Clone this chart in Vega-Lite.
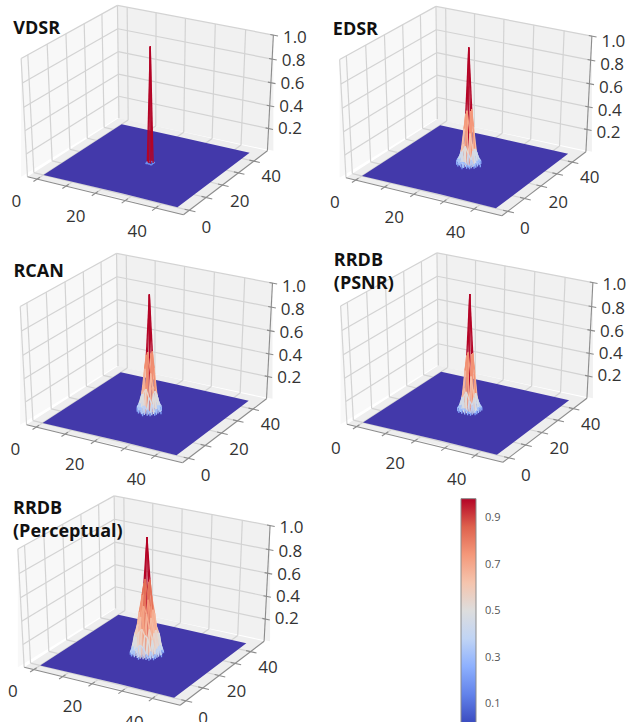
{"$schema":"https://vega.github.io/schema/vega-lite/v6.json","width":627,"height":722,"padding":0,"autosize":{"type":"none"},"background":"white","config":{"view":{"stroke":null}},
"params":[{"name":"OX","value":[149.3,467.8,148.4,468.8,146]},{"name":"OY","value":[106.5,107.5,354.5,354,597]},{"name":"TY","value":[-78,-78,-82.5,-93,-88]},{"name":"TXO","value":[-136,-135,-135,-135,-133]},{"name":"LY","value":[0,3,1,0,0]}],
"data":{"values":[
{"k":"w","w":"L","x":-3.4,"y":-3.4,"z":1,"x2":-3.4,"y2":-3.4,"z2":0},{"k":"w","w":"L","x":-3.4,"y":49,"z":1,"x2":-3.4,"y2":49,"z2":0},
{"k":"w","w":"R","x":-3.4,"y":49,"z":1,"x2":-3.4,"y2":49,"z2":0},{"k":"w","w":"R","x":49,"y":49,"z":1,"x2":49,"y2":49,"z2":0},
{"k":"w","w":"F","x":-3.4,"y":-3.4,"z":0,"x2":-3.4,"y2":-3.4,"z2":0},{"k":"w","w":"F","x":-3.4,"y":49,"z":0,"x2":26.2,"y2":-3.4,"z2":0},{"k":"w","w":"F","x":19.7,"y":49,"z":0,"x2":49,"y2":-3.4,"z2":0},{"k":"w","w":"F","x":49,"y":49,"z":0,"x2":49,"y2":49,"z2":0},
{"k":"f","x":0,"y":0,"z":0,"x2":0,"y2":0,"z2":0},{"k":"f","x":0,"y":45,"z":0,"x2":26,"y2":0,"z2":0},{"k":"f","x":20,"y":45,"z":0,"x2":45,"y2":0,"z2":0},{"k":"f","x":45,"y":45,"z":0,"x2":45,"y2":45,"z2":0},
{"k":"g","x":0,"y":49,"z":0,"x2":0,"y2":49,"z2":1},{"k":"g","x":10,"y":49,"z":0,"x2":10,"y2":49,"z2":1},{"k":"g","x":20,"y":49,"z":0,"x2":20,"y2":49,"z2":1},{"k":"g","x":30,"y":49,"z":0,"x2":30,"y2":49,"z2":1},{"k":"g","x":40,"y":49,"z":0,"x2":40,"y2":49,"z2":1},
{"k":"g","x":0,"y":-3.4,"z":0,"x2":0,"y2":49,"z2":0},{"k":"g","x":10,"y":-3.4,"z":0,"x2":10,"y2":49,"z2":0},{"k":"g","x":20,"y":-3.4,"z":0,"x2":20,"y2":49,"z2":0},{"k":"g","x":30,"y":-3.4,"z":0,"x2":30,"y2":49,"z2":0},{"k":"g","x":40,"y":-3.4,"z":0,"x2":40,"y2":49,"z2":0},
{"k":"g","x":-3.4,"y":0,"z":0,"x2":-3.4,"y2":0,"z2":1},{"k":"g","x":-3.4,"y":10,"z":0,"x2":-3.4,"y2":10,"z2":1},{"k":"g","x":-3.4,"y":20,"z":0,"x2":-3.4,"y2":20,"z2":1},{"k":"g","x":-3.4,"y":30,"z":0,"x2":-3.4,"y2":30,"z2":1},{"k":"g","x":-3.4,"y":40,"z":0,"x2":-3.4,"y2":40,"z2":1},
{"k":"g","x":-3.4,"y":0,"z":0,"x2":49,"y2":0,"z2":0},{"k":"g","x":-3.4,"y":10,"z":0,"x2":49,"y2":10,"z2":0},{"k":"g","x":-3.4,"y":20,"z":0,"x2":49,"y2":20,"z2":0},{"k":"g","x":-3.4,"y":30,"z":0,"x2":49,"y2":30,"z2":0},{"k":"g","x":-3.4,"y":40,"z":0,"x2":49,"y2":40,"z2":0},
{"k":"g","x":-3.4,"y":-3.4,"z":0.2,"x2":-3.4,"y2":49,"z2":0.2},{"k":"g","x":-3.4,"y":-3.4,"z":0.4,"x2":-3.4,"y2":49,"z2":0.4},{"k":"g","x":-3.4,"y":-3.4,"z":0.6,"x2":-3.4,"y2":49,"z2":0.6},{"k":"g","x":-3.4,"y":-3.4,"z":0.8,"x2":-3.4,"y2":49,"z2":0.8},{"k":"g","x":-3.4,"y":-3.4,"z":1,"x2":-3.4,"y2":49,"z2":1},
{"k":"g","x":-3.4,"y":49,"z":0.2,"x2":49,"y2":49,"z2":0.2},{"k":"g","x":-3.4,"y":49,"z":0.4,"x2":49,"y2":49,"z2":0.4},{"k":"g","x":-3.4,"y":49,"z":0.6,"x2":49,"y2":49,"z2":0.6},{"k":"g","x":-3.4,"y":49,"z":0.8,"x2":49,"y2":49,"z2":0.8},{"k":"g","x":-3.4,"y":49,"z":1,"x2":49,"y2":49,"z2":1},
{"k":"g","x":-3.4,"y":-3.4,"z":0,"x2":-3.4,"y2":-3.4,"z2":1},{"k":"g","x":-3.4,"y":49,"z":0,"x2":-3.4,"y2":49,"z2":1},
{"k":"a","x":-3.4,"y":-3.4,"z":0,"x2":49,"y2":-3.4,"z2":0},{"k":"a","x":49,"y":-3.4,"z":0,"x2":49,"y2":49,"z2":0},{"k":"a","x":49,"y":49,"z":0,"x2":49,"y2":49,"z2":1},
{"k":"a","x":0,"y":-1.9,"z":0,"x2":0,"y2":-5.4,"z2":0},{"k":"a","x":10,"y":-1.9,"z":0,"x2":10,"y2":-5.4,"z2":0},{"k":"a","x":20,"y":-1.9,"z":0,"x2":20,"y2":-5.4,"z2":0},{"k":"a","x":30,"y":-1.9,"z":0,"x2":30,"y2":-5.4,"z2":0},{"k":"a","x":40,"y":-1.9,"z":0,"x2":40,"y2":-5.4,"z2":0},
{"k":"a","x":47.5,"y":0,"z":0,"x2":51,"y2":0,"z2":0},{"k":"a","x":47.5,"y":10,"z":0,"x2":51,"y2":10,"z2":0},{"k":"a","x":47.5,"y":20,"z":0,"x2":51,"y2":20,"z2":0},{"k":"a","x":47.5,"y":30,"z":0,"x2":51,"y2":30,"z2":0},{"k":"a","x":47.5,"y":40,"z":0,"x2":51,"y2":40,"z2":0},
{"k":"a","x":48,"y":49,"z":0.2,"x2":50.5,"y2":49,"z2":0.2},{"k":"a","x":48,"y":49,"z":0.4,"x2":50.5,"y2":49,"z2":0.4},{"k":"a","x":48,"y":49,"z":0.6,"x2":50.5,"y2":49,"z2":0.6},{"k":"a","x":48,"y":49,"z":0.8,"x2":50.5,"y2":49,"z2":0.8},{"k":"a","x":48,"y":49,"z":1,"x2":50.5,"y2":49,"z2":1},
{"k":"lx","tv":0,"label":"0"},{"k":"lx","tv":20,"label":"20"},{"k":"lx","tv":40,"label":"40"},{"k":"ly","tv":0,"label":"0"},{"k":"ly","tv":20,"label":"20"},{"k":"ly","tv":40,"label":"40"},
{"k":"lz","tv":0.2,"label":"0.2"},{"k":"lz","tv":0.4,"label":"0.4"},{"k":"lz","tv":0.6,"label":"0.6"},{"k":"lz","tv":0.8,"label":"0.8"},{"k":"lz","tv":1,"label":"1.0"},
{"k":"tt","p":1,"line":0,"label":"VDSR"},{"k":"tt","p":2,"line":0,"label":"EDSR"},{"k":"tt","p":3,"line":0,"label":"RCAN"},{"k":"tt","p":4,"line":0,"label":"RRDB"},{"k":"tt","p":4,"line":1,"label":"(PSNR)"},{"k":"tt","p":5,"line":0,"label":"RRDB"},{"k":"tt","p":5,"line":1,"label":"(Perceptual)"},
{"k":"cb","p":0,"cv":0.985,"cv2":0.02},
{"k":"cl","p":0,"cv":0.9,"label":"0.9"},{"k":"cl","p":0,"cv":0.7,"label":"0.7"},{"k":"cl","p":0,"cv":0.5,"label":"0.5"},{"k":"cl","p":0,"cv":0.3,"label":"0.3"},{"k":"cl","p":0,"cv":0.1,"label":"0.1"},
{"k":"s","p":1,"x":22,"y":22,"z":0.002},{"k":"s","p":1,"x":23,"y":22,"z":0.01},{"k":"s","p":1,"x":24,"y":22,"z":0.002},{"k":"s","p":1,"x":22,"y":23,"z":0.01},{"k":"s","p":1,"x":23,"y":23,"z":1},{"k":"s","p":1,"x":24,"y":23,"z":0.01},{"k":"s","p":1,"x":22,"y":24,"z":0.002},{"k":"s","p":1,"x":23,"y":24,"z":0.01},{"k":"s","p":1,"x":24,"y":24,"z":0.002},
{"k":"s","p":2,"x":23,"y":19,"z":0.01},
{"k":"s","p":2,"x":21,"y":20,"z":0.02},{"k":"s","p":2,"x":22,"y":20,"z":0.04},{"k":"s","p":2,"x":23,"y":20,"z":0.05},{"k":"s","p":2,"x":24,"y":20,"z":0.03},{"k":"s","p":2,"x":25,"y":20,"z":0.02},
{"k":"s","p":2,"x":20,"y":21,"z":0.03},{"k":"s","p":2,"x":21,"y":21,"z":0.06},{"k":"s","p":2,"x":22,"y":21,"z":0.13},{"k":"s","p":2,"x":23,"y":21,"z":0.18},{"k":"s","p":2,"x":24,"y":21,"z":0.12},{"k":"s","p":2,"x":25,"y":21,"z":0.07},{"k":"s","p":2,"x":26,"y":21,"z":0.02},
{"k":"s","p":2,"x":20,"y":22,"z":0.04},{"k":"s","p":2,"x":21,"y":22,"z":0.11},{"k":"s","p":2,"x":22,"y":22,"z":0.32},{"k":"s","p":2,"x":23,"y":22,"z":0.48},{"k":"s","p":2,"x":24,"y":22,"z":0.29},{"k":"s","p":2,"x":25,"y":22,"z":0.14},{"k":"s","p":2,"x":26,"y":22,"z":0.04},
{"k":"s","p":2,"x":19,"y":23,"z":0.02},{"k":"s","p":2,"x":20,"y":23,"z":0.06},{"k":"s","p":2,"x":21,"y":23,"z":0.17},{"k":"s","p":2,"x":22,"y":23,"z":0.44},{"k":"s","p":2,"x":23,"y":23,"z":1},{"k":"s","p":2,"x":24,"y":23,"z":0.49},{"k":"s","p":2,"x":25,"y":23,"z":0.15},{"k":"s","p":2,"x":26,"y":23,"z":0.05},{"k":"s","p":2,"x":27,"y":23,"z":0.02},
{"k":"s","p":2,"x":20,"y":24,"z":0.04},{"k":"s","p":2,"x":21,"y":24,"z":0.14},{"k":"s","p":2,"x":22,"y":24,"z":0.28},{"k":"s","p":2,"x":23,"y":24,"z":0.46},{"k":"s","p":2,"x":24,"y":24,"z":0.33},{"k":"s","p":2,"x":25,"y":24,"z":0.12},{"k":"s","p":2,"x":26,"y":24,"z":0.05},
{"k":"s","p":2,"x":20,"y":25,"z":0.02},{"k":"s","p":2,"x":21,"y":25,"z":0.08},{"k":"s","p":2,"x":22,"y":25,"z":0.12},{"k":"s","p":2,"x":23,"y":25,"z":0.16},{"k":"s","p":2,"x":24,"y":25,"z":0.14},{"k":"s","p":2,"x":25,"y":25,"z":0.06},{"k":"s","p":2,"x":26,"y":25,"z":0.03},
{"k":"s","p":2,"x":21,"y":26,"z":0.03},{"k":"s","p":2,"x":22,"y":26,"z":0.04},{"k":"s","p":2,"x":23,"y":26,"z":0.06},{"k":"s","p":2,"x":24,"y":26,"z":0.05},{"k":"s","p":2,"x":25,"y":26,"z":0.02},
{"k":"s","p":2,"x":23,"y":27,"z":0.01},
{"k":"s","p":3,"x":23,"y":19,"z":0.02},
{"k":"s","p":3,"x":21,"y":20,"z":0.03},{"k":"s","p":3,"x":22,"y":20,"z":0.06},{"k":"s","p":3,"x":23,"y":20,"z":0.08},{"k":"s","p":3,"x":24,"y":20,"z":0.05},{"k":"s","p":3,"x":25,"y":20,"z":0.03},
{"k":"s","p":3,"x":20,"y":21,"z":0.04},{"k":"s","p":3,"x":21,"y":21,"z":0.08},{"k":"s","p":3,"x":22,"y":21,"z":0.17},{"k":"s","p":3,"x":23,"y":21,"z":0.22},{"k":"s","p":3,"x":24,"y":21,"z":0.15},{"k":"s","p":3,"x":25,"y":21,"z":0.1},{"k":"s","p":3,"x":26,"y":21,"z":0.03},
{"k":"s","p":3,"x":20,"y":22,"z":0.06},{"k":"s","p":3,"x":21,"y":22,"z":0.15},{"k":"s","p":3,"x":22,"y":22,"z":0.38},{"k":"s","p":3,"x":23,"y":22,"z":0.53},{"k":"s","p":3,"x":24,"y":22,"z":0.35},{"k":"s","p":3,"x":25,"y":22,"z":0.18},{"k":"s","p":3,"x":26,"y":22,"z":0.05},
{"k":"s","p":3,"x":19,"y":23,"z":0.02},{"k":"s","p":3,"x":20,"y":23,"z":0.07},{"k":"s","p":3,"x":21,"y":23,"z":0.22},{"k":"s","p":3,"x":22,"y":23,"z":0.49},{"k":"s","p":3,"x":23,"y":23,"z":1},{"k":"s","p":3,"x":24,"y":23,"z":0.53},{"k":"s","p":3,"x":25,"y":23,"z":0.19},{"k":"s","p":3,"x":26,"y":23,"z":0.07},{"k":"s","p":3,"x":27,"y":23,"z":0.02},
{"k":"s","p":3,"x":20,"y":24,"z":0.07},{"k":"s","p":3,"x":21,"y":24,"z":0.17},{"k":"s","p":3,"x":22,"y":24,"z":0.36},{"k":"s","p":3,"x":23,"y":24,"z":0.5},{"k":"s","p":3,"x":24,"y":24,"z":0.38},{"k":"s","p":3,"x":25,"y":24,"z":0.15},{"k":"s","p":3,"x":26,"y":24,"z":0.06},
{"k":"s","p":3,"x":20,"y":25,"z":0.03},{"k":"s","p":3,"x":21,"y":25,"z":0.09},{"k":"s","p":3,"x":22,"y":25,"z":0.15},{"k":"s","p":3,"x":23,"y":25,"z":0.2},{"k":"s","p":3,"x":24,"y":25,"z":0.18},{"k":"s","p":3,"x":25,"y":25,"z":0.08},{"k":"s","p":3,"x":26,"y":25,"z":0.04},
{"k":"s","p":3,"x":21,"y":26,"z":0.03},{"k":"s","p":3,"x":22,"y":26,"z":0.06},{"k":"s","p":3,"x":23,"y":26,"z":0.07},{"k":"s","p":3,"x":24,"y":26,"z":0.06},{"k":"s","p":3,"x":25,"y":26,"z":0.03},
{"k":"s","p":3,"x":23,"y":27,"z":0.02},
{"k":"s","p":4,"x":21,"y":20,"z":0.02},{"k":"s","p":4,"x":22,"y":20,"z":0.04},{"k":"s","p":4,"x":23,"y":20,"z":0.05},{"k":"s","p":4,"x":24,"y":20,"z":0.03},{"k":"s","p":4,"x":25,"y":20,"z":0.02},
{"k":"s","p":4,"x":20,"y":21,"z":0.03},{"k":"s","p":4,"x":21,"y":21,"z":0.06},{"k":"s","p":4,"x":22,"y":21,"z":0.14},{"k":"s","p":4,"x":23,"y":21,"z":0.19},{"k":"s","p":4,"x":24,"y":21,"z":0.12},{"k":"s","p":4,"x":25,"y":21,"z":0.08},{"k":"s","p":4,"x":26,"y":21,"z":0.02},
{"k":"s","p":4,"x":20,"y":22,"z":0.04},{"k":"s","p":4,"x":21,"y":22,"z":0.12},{"k":"s","p":4,"x":22,"y":22,"z":0.36},{"k":"s","p":4,"x":23,"y":22,"z":0.52},{"k":"s","p":4,"x":24,"y":22,"z":0.32},{"k":"s","p":4,"x":25,"y":22,"z":0.14},{"k":"s","p":4,"x":26,"y":22,"z":0.03},
{"k":"s","p":4,"x":20,"y":23,"z":0.05},{"k":"s","p":4,"x":21,"y":23,"z":0.19},{"k":"s","p":4,"x":22,"y":23,"z":0.48},{"k":"s","p":4,"x":23,"y":23,"z":1},{"k":"s","p":4,"x":24,"y":23,"z":0.51},{"k":"s","p":4,"x":25,"y":23,"z":0.17},{"k":"s","p":4,"x":26,"y":23,"z":0.05},
{"k":"s","p":4,"x":20,"y":24,"z":0.03},{"k":"s","p":4,"x":21,"y":24,"z":0.13},{"k":"s","p":4,"x":22,"y":24,"z":0.31},{"k":"s","p":4,"x":23,"y":24,"z":0.49},{"k":"s","p":4,"x":24,"y":24,"z":0.36},{"k":"s","p":4,"x":25,"y":24,"z":0.11},{"k":"s","p":4,"x":26,"y":24,"z":0.04},
{"k":"s","p":4,"x":20,"y":25,"z":0.02},{"k":"s","p":4,"x":21,"y":25,"z":0.08},{"k":"s","p":4,"x":22,"y":25,"z":0.12},{"k":"s","p":4,"x":23,"y":25,"z":0.17},{"k":"s","p":4,"x":24,"y":25,"z":0.14},{"k":"s","p":4,"x":25,"y":25,"z":0.06},{"k":"s","p":4,"x":26,"y":25,"z":0.03},
{"k":"s","p":4,"x":21,"y":26,"z":0.02},{"k":"s","p":4,"x":22,"y":26,"z":0.03},{"k":"s","p":4,"x":23,"y":26,"z":0.05},{"k":"s","p":4,"x":24,"y":26,"z":0.04},{"k":"s","p":4,"x":25,"y":26,"z":0.02},
{"k":"s","p":5,"x":23,"y":18,"z":0.02},
{"k":"s","p":5,"x":20,"y":19,"z":0.02},{"k":"s","p":5,"x":21,"y":19,"z":0.06},{"k":"s","p":5,"x":22,"y":19,"z":0.09},{"k":"s","p":5,"x":23,"y":19,"z":0.12},{"k":"s","p":5,"x":24,"y":19,"z":0.1},{"k":"s","p":5,"x":25,"y":19,"z":0.05},{"k":"s","p":5,"x":26,"y":19,"z":0.02},
{"k":"s","p":5,"x":19,"y":20,"z":0.02},{"k":"s","p":5,"x":20,"y":20,"z":0.08},{"k":"s","p":5,"x":21,"y":20,"z":0.17},{"k":"s","p":5,"x":22,"y":20,"z":0.22},{"k":"s","p":5,"x":23,"y":20,"z":0.25},{"k":"s","p":5,"x":24,"y":20,"z":0.2},{"k":"s","p":5,"x":25,"y":20,"z":0.18},{"k":"s","p":5,"x":26,"y":20,"z":0.07},{"k":"s","p":5,"x":27,"y":20,"z":0.02},
{"k":"s","p":5,"x":19,"y":21,"z":0.05},{"k":"s","p":5,"x":20,"y":21,"z":0.18},{"k":"s","p":5,"x":21,"y":21,"z":0.27},{"k":"s","p":5,"x":22,"y":21,"z":0.34},{"k":"s","p":5,"x":23,"y":21,"z":0.44},{"k":"s","p":5,"x":24,"y":21,"z":0.38},{"k":"s","p":5,"x":25,"y":21,"z":0.25},{"k":"s","p":5,"x":26,"y":21,"z":0.16},{"k":"s","p":5,"x":27,"y":21,"z":0.04},
{"k":"s","p":5,"x":19,"y":22,"z":0.09},{"k":"s","p":5,"x":20,"y":22,"z":0.2},{"k":"s","p":5,"x":21,"y":22,"z":0.37},{"k":"s","p":5,"x":22,"y":22,"z":0.52},{"k":"s","p":5,"x":23,"y":22,"z":0.66},{"k":"s","p":5,"x":24,"y":22,"z":0.49},{"k":"s","p":5,"x":25,"y":22,"z":0.34},{"k":"s","p":5,"x":26,"y":22,"z":0.21},{"k":"s","p":5,"x":27,"y":22,"z":0.08},
{"k":"s","p":5,"x":18,"y":23,"z":0.02},{"k":"s","p":5,"x":19,"y":23,"z":0.11},{"k":"s","p":5,"x":20,"y":23,"z":0.25},{"k":"s","p":5,"x":21,"y":23,"z":0.42},{"k":"s","p":5,"x":22,"y":23,"z":0.61},{"k":"s","p":5,"x":23,"y":23,"z":1},{"k":"s","p":5,"x":24,"y":23,"z":0.65},{"k":"s","p":5,"x":25,"y":23,"z":0.4},{"k":"s","p":5,"x":26,"y":23,"z":0.23},{"k":"s","p":5,"x":27,"y":23,"z":0.09},{"k":"s","p":5,"x":28,"y":23,"z":0.02},
{"k":"s","p":5,"x":19,"y":24,"z":0.08},{"k":"s","p":5,"x":20,"y":24,"z":0.22},{"k":"s","p":5,"x":21,"y":24,"z":0.33},{"k":"s","p":5,"x":22,"y":24,"z":0.5},{"k":"s","p":5,"x":23,"y":24,"z":0.62},{"k":"s","p":5,"x":24,"y":24,"z":0.5},{"k":"s","p":5,"x":25,"y":24,"z":0.36},{"k":"s","p":5,"x":26,"y":24,"z":0.19},{"k":"s","p":5,"x":27,"y":24,"z":0.09},
{"k":"s","p":5,"x":19,"y":25,"z":0.05},{"k":"s","p":5,"x":20,"y":25,"z":0.17},{"k":"s","p":5,"x":21,"y":25,"z":0.26},{"k":"s","p":5,"x":22,"y":25,"z":0.37},{"k":"s","p":5,"x":23,"y":25,"z":0.4},{"k":"s","p":5,"x":24,"y":25,"z":0.34},{"k":"s","p":5,"x":25,"y":25,"z":0.24},{"k":"s","p":5,"x":26,"y":25,"z":0.18},{"k":"s","p":5,"x":27,"y":25,"z":0.04},
{"k":"s","p":5,"x":19,"y":26,"z":0.02},{"k":"s","p":5,"x":20,"y":26,"z":0.07},{"k":"s","p":5,"x":21,"y":26,"z":0.18},{"k":"s","p":5,"x":22,"y":26,"z":0.21},{"k":"s","p":5,"x":23,"y":26,"z":0.25},{"k":"s","p":5,"x":24,"y":26,"z":0.23},{"k":"s","p":5,"x":25,"y":26,"z":0.16},{"k":"s","p":5,"x":26,"y":26,"z":0.08},{"k":"s","p":5,"x":27,"y":26,"z":0.01},
{"k":"s","p":5,"x":20,"y":27,"z":0.01},{"k":"s","p":5,"x":21,"y":27,"z":0.04},{"k":"s","p":5,"x":22,"y":27,"z":0.1},{"k":"s","p":5,"x":23,"y":27,"z":0.11},{"k":"s","p":5,"x":24,"y":27,"z":0.09},{"k":"s","p":5,"x":25,"y":27,"z":0.06},{"k":"s","p":5,"x":26,"y":27,"z":0.02},
{"k":"s","p":5,"x":23,"y":28,"z":0.02}
]},
"transform":[
{"calculate":"isValid(datum.p)?[datum.p]:[1,2,3,4,5]","as":"ps"},{"flatten":["ps"],"as":["P"]},
{"window":[{"op":"lead","field":"x","as":"xn"},{"op":"lead","field":"z","as":"zx"}],"groupby":["k","P","y"],"sort":[{"field":"x"}]},
{"window":[{"op":"lead","field":"y","as":"yn"},{"op":"lead","field":"z","as":"zy"}],"groupby":["k","P","x"],"sort":[{"field":"y"}]},
{"calculate":"datum.k=='s'?[0,1,2]:[3]","as":"es"},{"flatten":["es"],"as":["e"]},
{"calculate":"datum.k=='lx'?datum.tv+3.5:datum.k=='ly'?58.8:datum.k=='lz'?49:datum.x","as":"ax"},
{"calculate":"datum.k=='lx'?-19.7:datum.k=='ly'?datum.tv-7.9:datum.k=='lz'?49:datum.y","as":"ay"},
{"calculate":"datum.k=='lz'?datum.tv:(datum.k=='lx'||datum.k=='ly')?0:datum.z","as":"az"},
{"calculate":"datum.e==0&&isValid(datum.xn)?datum.xn:datum.e==3?datum.x2:datum.x","as":"bx"},
{"calculate":"datum.e==1&&isValid(datum.yn)?datum.yn:datum.e==3?datum.y2:datum.y","as":"by"},
{"calculate":"datum.e==0?(isValid(datum.zx)?datum.zx:datum.z):datum.e==1?(isValid(datum.zy)?datum.zy:datum.z):datum.e==2?0:datum.z2","as":"bz"},
{"calculate":"(datum.ax+3.4)/52.4-.5","as":"u"},{"calculate":"(datum.ay+3.4)/52.4-.5","as":"v"},{"calculate":"datum.az-.5","as":"t"},
{"calculate":"1-(.433*datum.u-.75*datum.v+.5*datum.t)/10","as":"w0"},
{"calculate":"OX[datum.P-1]+180*(.866*datum.u+.5*datum.v)/datum.w0","as":"X"},
{"calculate":"OY[datum.P-1]-135*(-.25*datum.u+.433*datum.v+.866*datum.t)/datum.w0","as":"Y"},
{"calculate":"(datum.bx+3.4)/52.4-.5","as":"u2"},{"calculate":"(datum.by+3.4)/52.4-.5","as":"v2b"},{"calculate":"datum.bz-.5","as":"t2"},
{"calculate":"1-(.433*datum.u2-.75*datum.v2b+.5*datum.t2)/10","as":"w2"},
{"calculate":"OX[datum.P-1]+180*(.866*datum.u2+.5*datum.v2b)/datum.w2","as":"X2"},
{"calculate":"OY[datum.P-1]-135*(-.25*datum.u2+.433*datum.v2b+.866*datum.t2)/datum.w2","as":"Y2"}
],
"encoding":{"x":{"field":"X","type":"quantitative","axis":null,"scale":{"domain":[0,627],"nice":false,"zero":false}},"y":{"field":"Y","type":"quantitative","axis":null,"scale":{"domain":[722,0],"nice":false,"zero":false}}},
"layer":[
{"transform":[{"filter":"datum.k=='w'"}],"mark":{"type":"area"},"encoding":{"y2":{"field":"Y2"},"detail":{"field":"P"},"fill":{"field":"w","type":"nominal","legend":null,"scale":{"domain":["L","R","F"],"range":["#f8f8f8","#f1f1f1","#eeeeee"]}}}},
{"transform":[{"filter":"datum.k=='g'"}],"mark":{"type":"rule","stroke":"#d3d3d3","strokeWidth":1.2},"encoding":{"x2":{"field":"X2"},"y2":{"field":"Y2"}}},
{"transform":[{"filter":"datum.k=='f'"}],"mark":{"type":"area","fill":"#4339aa"},"encoding":{"y2":{"field":"Y2"},"detail":{"field":"P"}}},
{"transform":[{"filter":"datum.k=='a'"}],"mark":{"type":"rule","stroke":"#8c8c8c","strokeWidth":1.1},"encoding":{"x2":{"field":"X2"},"y2":{"field":"Y2"}}},
{"transform":[{"filter":"datum.k=='s'"},{"calculate":"pow(max(datum.az,datum.bz),0.4)","as":"c"},{"calculate":".433*datum.ax-.75*datum.ay+(datum.e==0?.22:datum.e==1?-.37:0)","as":"d"}],"mark":{"type":"rule","strokeWidth":1.3},"encoding":{"x2":{"field":"X2"},"y2":{"field":"Y2"},"order":{"field":"d","type":"quantitative"},"stroke":{"field":"c","type":"quantitative","legend":null,"scale":{"domain":[0,0.125,0.25,0.375,0.5,0.625,0.75,0.875,1],"range":["#3b4cc0","#6282ea","#8db0fe","#c0d4f5","#dddddd","#f5c4ad","#f4987a","#de614d","#b40426"]}}}},
{"transform":[{"filter":"datum.k=='lx'||datum.k=='ly'"}],"mark":{"type":"text","font":"Open Sans","fontSize":17,"fill":"#333333","align":"center","baseline":"middle"},"encoding":{"text":{"field":"label"}}},
{"transform":[{"filter":"datum.k=='lz'"},{"calculate":"datum.X+21.5","as":"ZX"},{"calculate":"datum.Y+3.5*datum.tv-.7+LY[datum.P-1]","as":"ZY"}],"mark":{"type":"text","font":"Open Sans","fontSize":17,"fill":"#333333","align":"center","baseline":"middle"},"encoding":{"x":{"field":"ZX","type":"quantitative"},"y":{"field":"ZY","type":"quantitative"},"text":{"field":"label"}}},
{"transform":[{"filter":"datum.k=='tt'"},{"calculate":"OX[datum.P-1]+TXO[datum.P-1]","as":"TX"},{"calculate":"OY[datum.P-1]+TY[datum.P-1]+datum.line*22.5","as":"TTY"}],"mark":{"type":"text","font":"Open Sans","fontWeight":"bold","fontSize":18,"fill":"#111111","align":"left","baseline":"middle"},"encoding":{"x":{"field":"TX","type":"quantitative"},"y":{"field":"TTY","type":"quantitative"},"text":{"field":"label"}}},
{"transform":[{"filter":"datum.k=='cb'"},{"calculate":"461","as":"B1"},{"calculate":"476","as":"B2"},{"calculate":"704+(.1-datum.cv)*232","as":"C1"},{"calculate":"704+(.1-datum.cv2)*232","as":"C2"}],"mark":{"type":"rect","stroke":"#8a8a8a","strokeWidth":1,"fill":{"gradient":"linear","x1":0,"y1":0,"x2":0,"y2":1,"stops":[{"offset":0,"color":"#b40426"},{"offset":0.125,"color":"#de614d"},{"offset":0.25,"color":"#f4987a"},{"offset":0.375,"color":"#f5c4ad"},{"offset":0.5,"color":"#dddddd"},{"offset":0.625,"color":"#c0d4f5"},{"offset":0.75,"color":"#8db0fe"},{"offset":0.875,"color":"#6282ea"},{"offset":1,"color":"#3b4cc0"}]}},"encoding":{"x":{"field":"B1","type":"quantitative"},"x2":{"field":"B2"},"y":{"field":"C1","type":"quantitative"},"y2":{"field":"C2"}}},
{"transform":[{"filter":"datum.k=='cl'"},{"calculate":"485","as":"B1"},{"calculate":"704+(.1-datum.cv)*232","as":"C1"}],"mark":{"type":"text","font":"Open Sans","fontSize":11,"fill":"#555555","align":"left","baseline":"middle"},"encoding":{"x":{"field":"B1","type":"quantitative"},"y":{"field":"C1","type":"quantitative"},"text":{"field":"label"}}}
]}
